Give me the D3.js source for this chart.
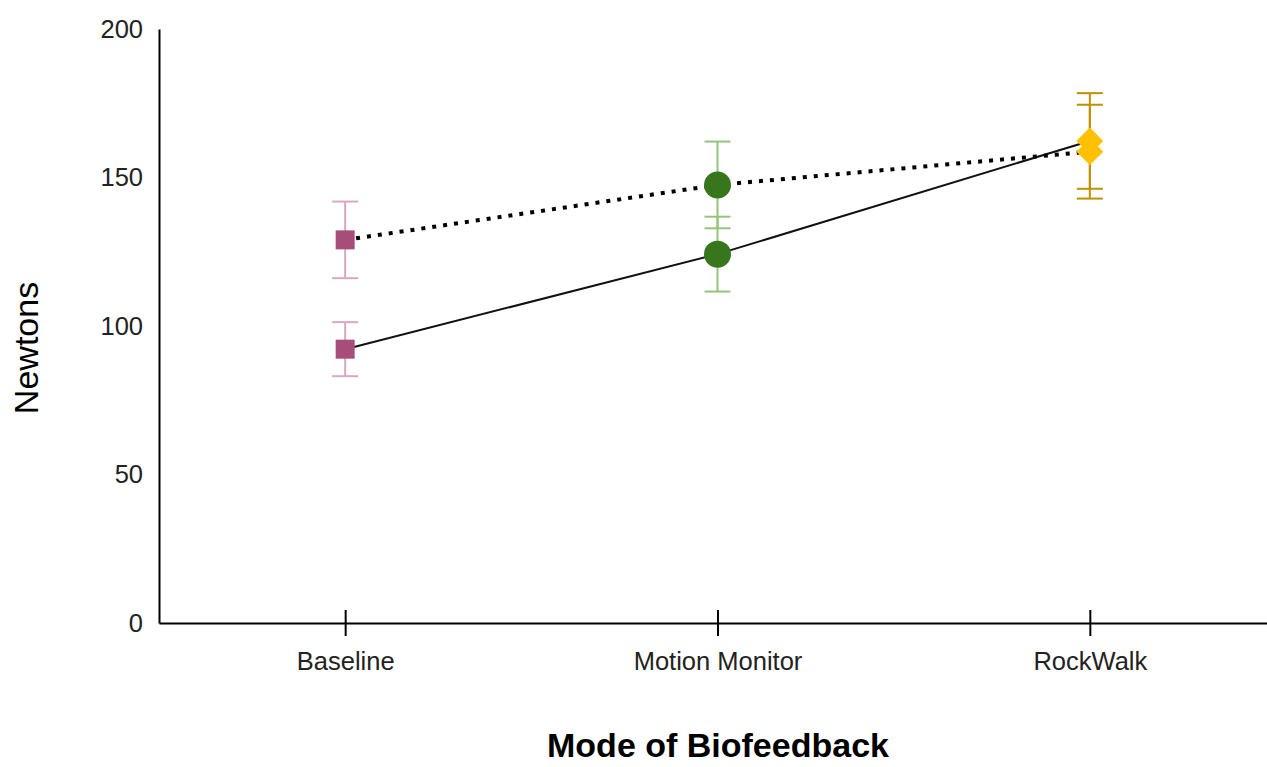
<html>
<head>
<script src="https://d3js.org/d3.v7.min.js"></script>
<style>
body { margin: 0; background: #fff; }
text { font-family: 'Liberation Sans', Arial, sans-serif; }
</style>
</head>
<body>
<svg></svg>
<script>

var width = 1267;
var height = 767;

// chart values
var modes = ["Baseline", "Motion Monitor", "RockWalk"];
var solidMeans = [92.2, 124.2, 162.3];
var solidErrors = [9.1, 12.6, 16.1];
var dottedMeans = [129.0, 147.5, 158.7];
var dottedErrors = [12.9, 14.6, 15.8];
var yTicks = [0, 50, 100, 150, 200];

var markerFill = ["#a64d79", "#38761d", "#ffc000"];
var errorColor = ["#d9a7c0", "#93c47d", "#bf9000"];
var markerShape = [d3.symbolSquare, d3.symbolCircle, d3.symbolSquare];
var markerArea = [19 * 19, Math.PI * 13.5 * 13.5, 19 * 19];
var markerRotate = [0, 0, 45];

var fontFamily = "'Liberation Sans', Arial, sans-serif";

var svg = d3.select("svg").attr("width", width).attr("height", height);

var xScale = d3.scalePoint()
	.domain(modes)
	.range([159, 1276])
	.padding(0.5);
var yScale = d3.scaleLinear()
	.domain([0, 200])
	.range([623, 29]);

// axes
var xAxis = svg.append("g")
	.attr("transform", "translate(0," + yScale(0) + ")")
	.call(d3.axisBottom(xScale).tickSizeInner(13).tickSizeOuter(0).tickPadding(16));
xAxis.select(".domain").attr("stroke", "#000").attr("stroke-width", 2);
xAxis.selectAll(".tick line").attr("stroke", "#000").attr("stroke-width", 2).attr("y1", -13);
xAxis.selectAll(".tick text").attr("font-size", 25.5).attr("fill", "#222")
	.style("font-family", fontFamily);

var yAxis = svg.append("g")
	.attr("transform", "translate(159,0)")
	.call(d3.axisLeft(yScale).tickValues(yTicks).tickSize(0).tickSizeOuter(0).tickPadding(16));
yAxis.select(".domain").attr("stroke", "#000").attr("stroke-width", 2);
yAxis.selectAll(".tick text").attr("font-size", 25.5).attr("fill", "#222")
	.style("font-family", fontFamily);

// axis titles
svg.append("text")
	.attr("x", 718).attr("y", 757)
	.attr("text-anchor", "middle")
	.attr("font-size", 34).attr("font-weight", "bold").attr("fill", "#000")
	.text("Mode of Biofeedback");

svg.append("text")
	.attr("transform", "translate(38,348) rotate(-90)")
	.attr("text-anchor", "middle")
	.attr("font-size", 34).attr("fill", "#000")
	.text("Newtons");

// error bars
function drawErrors(means, errors) {
	var g = svg.append("g");
	modes.forEach(function (m, i) {
		var x = xScale(m);
		var lo = yScale(means[i] - errors[i]);
		var hi = yScale(means[i] + errors[i]);
		g.append("line").attr("x1", x).attr("x2", x).attr("y1", lo).attr("y2", hi)
			.attr("stroke", errorColor[i]).attr("stroke-width", 2);
		[lo, hi].forEach(function (y) {
			g.append("line").attr("x1", x - 13).attr("x2", x + 13).attr("y1", y).attr("y2", y)
				.attr("stroke", errorColor[i]).attr("stroke-width", 2);
		});
	});
}
drawErrors(solidMeans, solidErrors);
drawErrors(dottedMeans, dottedErrors);

// lines
var line = d3.line()
	.x(function (d, i) { return xScale(modes[i]); })
	.y(function (d) { return yScale(d); });

svg.append("path").datum(solidMeans)
	.attr("d", line).attr("fill", "none")
	.attr("stroke", "#111").attr("stroke-width", 2);

svg.append("path").datum(dottedMeans)
	.attr("d", line).attr("fill", "none")
	.attr("stroke", "#000").attr("stroke-width", 4)
	.attr("stroke-dasharray", "4,7");

// markers
function drawMarkers(means) {
	svg.append("g").selectAll("path").data(means).enter().append("path")
		.attr("transform", function (d, i) {
			return "translate(" + xScale(modes[i]) + "," + yScale(d) + ") rotate(" + markerRotate[i] + ")";
		})
		.attr("d", function (d, i) { return d3.symbol().type(markerShape[i]).size(markerArea[i])(); })
		.attr("fill", function (d, i) { return markerFill[i]; });
}
drawMarkers(solidMeans);
drawMarkers(dottedMeans);

</script>
</body>
</html>
